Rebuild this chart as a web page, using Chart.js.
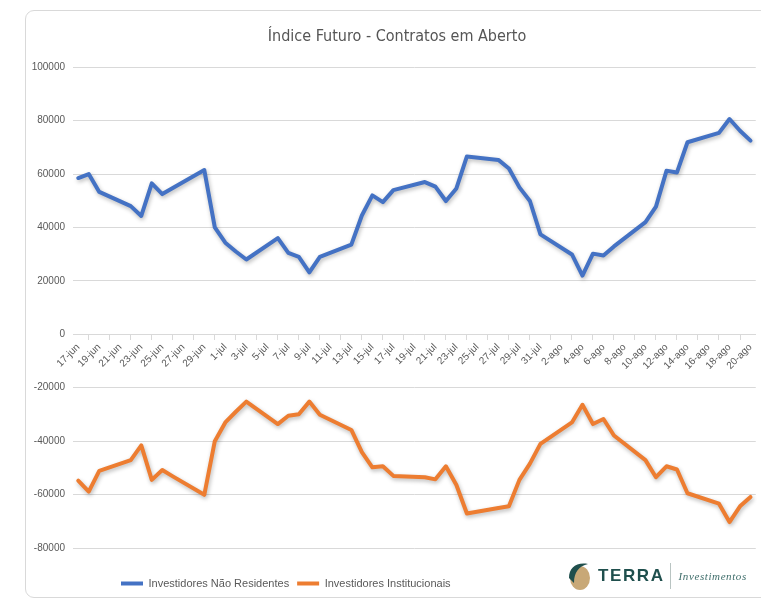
<!DOCTYPE html>
<html>
<head>
<meta charset="utf-8">
<script src="https://cdn.jsdelivr.net/npm/chart.js@4.4.0/dist/chart.umd.min.js"></script>
<style>
  body { margin: 0; background: #fff; }
  #wrap { position: relative; width: 761px; height: 599px; overflow: hidden; }
  #frame { position: absolute; left: 25px; top: 10px; width: 780px; height: 586px; border: 1px solid #d9d9d9; border-radius: 9px; }
  #chartBox { position: absolute; left: 0; top: 0; width: 761px; height: 599px; }
  #logo { position: absolute; left: 567px; top: 561px; height: 30px; display: flex; align-items: center; }
  #logo .terra { font-family: 'Liberation Sans', sans-serif; font-weight: bold; font-size: 17px; letter-spacing: 1.6px; color: #1f4f4d; margin-left: 7px; }
  #logo .sep { display: inline-block; width: 1px; height: 26px; background: #b9c4c2; margin: 0 8px 0 5px; }
  #logo .inv { font-family: 'Liberation Serif', serif; font-style: italic; font-size: 11px; letter-spacing: 0.6px; color: #3e6d6a; }
</style>
</head>
<body>
<div id="wrap">
  <div id="frame"></div>
  <div id="chartBox"><canvas id="myChart"></canvas></div>
  <div id="logo">
    <svg width="24" height="30" viewBox="0 0 24 30">
      <ellipse cx="13" cy="17" rx="10" ry="12" fill="#c8a877"/>
      <path d="M2 17 C2 7 9 1 21 3 C12 5 7 11 7 22 Z" fill="#1f4f4d"/>
    </svg>
    <span class="terra">TERRA</span>
    <span class="sep"></span>
    <span class="inv">Investimentos</span>
  </div>
</div>
<script>
// dias de pregao (2020)
var pregoes = ['17-jun','18-jun','19-jun','22-jun','23-jun','24-jun','25-jun','26-jun','29-jun','30-jun',
    '1-jul','2-jul','3-jul','6-jul','7-jul','8-jul','9-jul','10-jul','13-jul','14-jul','15-jul','16-jul','17-jul',
    '20-jul','21-jul','22-jul','23-jul','24-jul','27-jul','28-jul','29-jul','30-jul','31-jul',
    '3-ago','4-ago','5-ago','6-ago','7-ago','10-ago','11-ago','12-ago','13-ago','14-ago',
    '17-ago','18-ago','19-ago','20-ago'];

var naoResidentes = [58500, 60000, 53300, 48000, 44300, 56500, 52500, 54800, 61500, 40000,
    34300, 31000, 28000, 36000, 30500, 29000, 23200, 29000, 33600, 44500, 52000, 49500, 54000,
    57000, 55300, 49900, 54600, 66600, 65300, 62100, 55000, 49900, 37400,
    29900, 22000, 30200, 29500, 32900, 42000, 47800, 61200, 60600, 71900,
    75400, 80600, 76200, 72500];

var institucionais = [-54800, -58900, -51100, -47100, -41600, -54500, -50800, -53200, -60100, -40000,
    -33000, -29000, -25200, -33600, -30500, -29900, -25200, -30100, -35800, -44100, -49800, -49400, -53000,
    -53500, -54300, -49400, -56400, -67100, -65000, -64400, -54500, -48400, -41000,
    -33000, -26400, -33600, -31700, -37900, -47100, -53500, -49400, -50600, -59500,
    -63400, -70300, -64400, -60900];

var meses = ['jan','fev','mar','abr','mai','jun','jul','ago','set','out','nov','dez'];

// eixo de datas corrido, fins de semana ficam vazios
var calendario = [];
for (var d = new Date(2020, 5, 17); d <= new Date(2020, 7, 20); d.setDate(d.getDate() + 1)) {
    calendario.push(d.getDate() + '-' + meses[d.getMonth()]);
}

function serie(valores) {
    return calendario.map(function(dia) {
        var i = pregoes.indexOf(dia);
        return i >= 0 ? valores[i] : null;
    });
}

var sombra = {
    id: 'sombra',
    beforeDatasetsDraw: function(chart) {
        var c = chart.ctx;
        c.save();
        c.shadowColor = 'rgba(0,0,0,0.28)';
        c.shadowBlur = 4;
        c.shadowOffsetX = 1;
        c.shadowOffsetY = 2;
    },
    afterDatasetsDraw: function(chart) {
        chart.ctx.restore();
    }
};

// titulo e legenda um pouco deslocados como no original
var ajustes = {
    id: 'ajustes',
    afterLayout: function(chart) {
        chart.legend.left = 113;
        chart.legend.top += 22;
        chart.legend.bottom += 22;
        chart.titleBlock.left = 34;
    }
};

Chart.defaults.font.family = "'Liberation Sans', Arial, sans-serif";
Chart.defaults.color = '#595959';

var ctx = document.getElementById('myChart').getContext('2d');
var myChart = new Chart(ctx, {
    type: 'line',
    data: {
        labels: calendario,
        datasets: [{
            label: 'Investidores Não Residentes',
            data: serie(naoResidentes),
            borderColor: '#4472c4',
            backgroundColor: '#4472c4',
            borderWidth: 4,
            pointRadius: 0,
            spanGaps: true,
            borderJoinStyle: 'round',
            borderCapStyle: 'round'
        }, {
            label: 'Investidores Institucionais',
            data: serie(institucionais),
            borderColor: '#ed7d31',
            backgroundColor: '#ed7d31',
            borderWidth: 4,
            pointRadius: 0,
            spanGaps: true,
            borderJoinStyle: 'round',
            borderCapStyle: 'round'
        }]
    },
    options: {
        responsive: true,
        maintainAspectRatio: false,
        animation: false,
        layout: { padding: { left: 0, right: 1, top: 0, bottom: 22 } },
        plugins: {
            title: {
                display: true,
                text: 'Índice Futuro - Contratos em Aberto',
                color: '#555555',
                font: { family: "'DejaVu Sans Condensed', 'Liberation Sans Narrow', sans-serif", size: 16, weight: 'normal' },
                padding: { top: 27, bottom: 21 }
            },
            legend: {
                position: 'bottom',
                align: 'start',
                labels: {
                    usePointStyle: true,
                    pointStyle: 'line',
                    pointStyleWidth: 22,
                    boxWidth: 22,
                    color: '#595959',
                    font: { size: 11 },
                    padding: 8
                }
            },
            tooltip: { enabled: false }
        },
        scales: {
            x: {
                position: { y: 0 },
                offset: true,
                grid: { offset: true, drawOnChartArea: false, drawTicks: true, tickLength: 5, color: '#d9d9d9' },
                border: { color: '#d9d9d9' },
                ticks: {
                    autoSkip: false,
                    maxRotation: 45,
                    minRotation: 45,
                    color: '#595959',
                    font: { size: 10 },
                    padding: 2,
                    callback: function(v, i) {
                        return i % 2 === 0 ? this.getLabelForValue(v) : null;
                    }
                }
            },
            y: {
                min: -80000,
                max: 100000,
                ticks: {
                    stepSize: 20000,
                    color: '#595959',
                    font: { size: 10 },
                    padding: 8,
                    callback: function(v) { return String(v); }
                },
                grid: { color: '#d9d9d9', drawTicks: false },
                border: { display: false },
                afterFit: function(s) { s.width = 73; }
            }
        }
    },
    plugins: [sombra, ajustes]
});
</script>
</body>
</html>
